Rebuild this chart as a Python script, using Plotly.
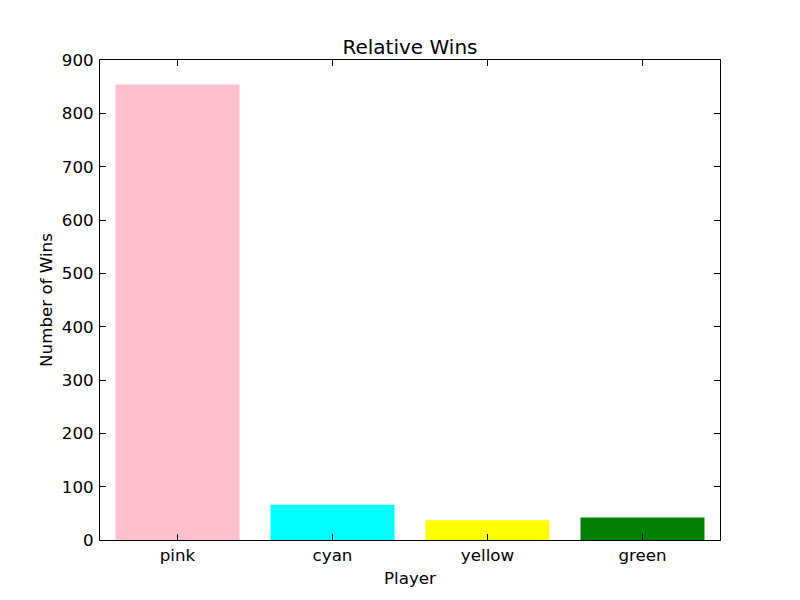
import plotly.graph_objects as go

players = ['pink', 'cyan', 'yellow', 'green']
wins = [854, 66, 37, 42]
bar_colors = ['pink', 'cyan', 'yellow', 'green']

y_ticks = list(range(0, 901, 100))

fig = go.Figure()
fig.add_trace(go.Bar(
    x=players,
    y=wins,
    width=0.8,
    marker=dict(color=bar_colors, line=dict(width=0)),
))

axis_style = dict(
    showline=True, linecolor='black', linewidth=1, mirror='allticks',
    ticks='inside', ticklen=6, tickcolor='black', tickwidth=1,
    showgrid=False, zeroline=False,
    tickfont=dict(family='DejaVu Sans', size=16.7, color='black'),
)

# page body has an 8px margin, so shift everything up/left by 8
fig.update_layout(
    width=800, height=600,
    margin=dict(l=92, r=88, t=52, b=68),
    paper_bgcolor='white', plot_bgcolor='white',
    font=dict(family='DejaVu Sans', color='black'),
    title=dict(text='Relative Wins', x=402 / 800, xanchor='center',
               y=1 - 39 / 600, yanchor='middle', yref='container',
               font=dict(size=20, family='DejaVu Sans', color='black')),
    showlegend=False,
    bargap=0.2,
)
fig.update_xaxes(axis_style, range=[-0.5, 3.5], ticklabelstandoff=0,
                 title=dict(text='Player', standoff=8,
                            font=dict(size=16.7, family='DejaVu Sans')))
fig.update_yaxes(axis_style, range=[0, 900], tickvals=y_ticks,
                 ticklabelstandoff=2,
                 title=dict(text='Number of Wins', standoff=4,
                            font=dict(size=16.7, family='DejaVu Sans')))

fig.write_html("out.html")
